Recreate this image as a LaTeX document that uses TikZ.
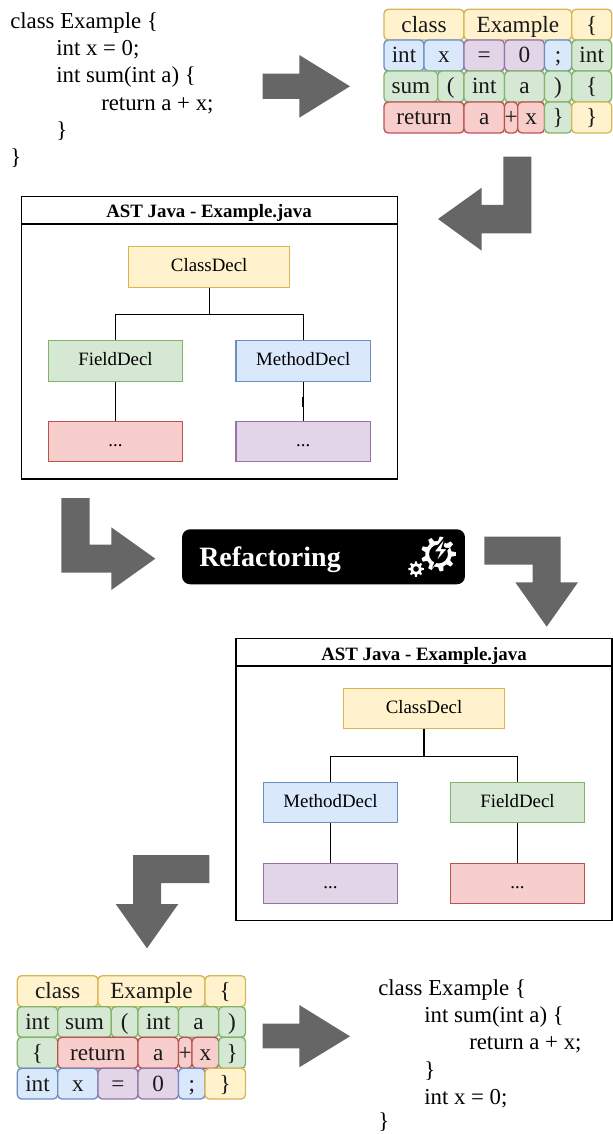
\documentclass[tikz,border=0pt]{standalone}
\usepackage{fontspec}
\setmainfont{Liberation Serif}
\usetikzlibrary{calc}
\definecolor{yf}{HTML}{FFF2CC}\definecolor{ys}{HTML}{D6B656}
\definecolor{bf}{HTML}{DAE8FC}\definecolor{bs}{HTML}{6C8EBF}
\definecolor{gf}{HTML}{D5E8D4}\definecolor{gs}{HTML}{82B366}
\definecolor{rf}{HTML}{F8CECC}\definecolor{rs}{HTML}{B85450}
\definecolor{pf}{HTML}{E1D5E7}\definecolor{ps}{HTML}{9673A6}
\definecolor{arrowgrey}{HTML}{666666}
\tikzset{
 yel/.style={fill=yf,draw=ys}, blu/.style={fill=bf,draw=bs}, grn/.style={fill=gf,draw=gs},
 red/.style={fill=rf,draw=rs}, pur/.style={fill=pf,draw=ps},
 tok/.style={rectangle,rounded corners=3.2pt,line width=1pt,inner sep=0pt,font=\fontsize{17.4pt}{19pt}\selectfont,text height=12.4pt,text depth=1.2pt,text=black!90},
 decl/.style={rectangle,line width=.8pt,inner sep=0pt,minimum width=101pt,minimum height=30.5pt,font=\fontsize{14.15pt}{16pt}\selectfont,text height=9.5pt,text depth=2.5pt},
 code/.style={anchor=base west,inner sep=0pt,font=\fontsize{17.1pt}{19pt}\selectfont},
 astbox/.style={rectangle,draw=black,line width=.85pt,inner sep=0pt},
 asttitle/.style={anchor=base,inner sep=0pt,font=\fontsize{14.15pt}{16pt}\selectfont\bfseries},
 link/.style={draw=black,line width=.8pt},
 bigarrow/.style={fill=arrowgrey},
}
\newcommand\tok[7]{%
 \pgfmathsetmacro\tokw{(#4-#3)*.75}\pgfmathsetmacro\tokh{(#6-#5)*.75}%
 \node[tok,#2,minimum width=\tokw pt,minimum height=\tokh pt] (#1) at ({(#3+#4)/2},{(#5+#6)/2}) {#7};}
\newcommand\gearshape[5]{% cx cy router rinner teeth
 \fill[white] \foreach \gi in {1,...,#5}{
   \ifnum\gi=1 ({#1+#4*cos(\gi*360/#5-90/#5*1.15)},{#2+#4*sin(\gi*360/#5-90/#5*1.15)})\else
   -- ({#1+#4*cos(\gi*360/#5-90/#5*1.15)},{#2+#4*sin(\gi*360/#5-90/#5*1.15)})\fi
   -- ({#1+#3*cos(\gi*360/#5-90/#5*.6)},{#2+#3*sin(\gi*360/#5-90/#5*.6)})
   -- ({#1+#3*cos(\gi*360/#5+90/#5*.6)},{#2+#3*sin(\gi*360/#5+90/#5*.6)})
   -- ({#1+#4*cos(\gi*360/#5+90/#5*1.15)},{#2+#4*sin(\gi*360/#5+90/#5*1.15)})
 } -- cycle;}
\begin{document}
\begin{tikzpicture}[x=.75pt,y=-.75pt]
\useasboundingbox (0,0) rectangle (613,1134);
% source code
\node[code] (c1) at (10,29) {class Example \{};
\node[code] (c2) at (56,56) {int x = 0;};
\node[code] (c3) at (56,83) {int sum(int a) \{};
\node[code] (c4) at (101,111) {return a + x;};
\node[code] (c5) at (56,138) {\}};
\node[code] (c6) at (10,165) {\}};
% arrows
\fill[bigarrow] (262.7,73.7) -- (299.3,73.7) -- (299.3,55) -- (350,86.3) -- (299.3,117.7) -- (299.3,99) -- (262.7,99) -- cycle;
\fill[bigarrow] (503.3,156.7) -- (531.3,156.7) -- (531.3,233.3) -- (481.7,233.3) -- (481.7,250.7) -- (438,219) -- (481.7,187.7) -- (481.7,205) -- (503.3,205) -- cycle;
\fill[bigarrow] (61.3,498) -- (89.7,498) -- (89.7,544.7) -- (111.3,544.7) -- (111.3,527.3) -- (155.3,558.7) -- (111.3,590) -- (111.3,572.7) -- (61.3,572.7) -- cycle;
\fill[bigarrow] (484.3,536.7) -- (560.7,536.7) -- (560.7,582.3) -- (578,582.3) -- (546.7,626.7) -- (515.3,582.3) -- (532.7,582.3) -- (532.7,564.7) -- (484.3,564.7) -- cycle;
\fill[bigarrow] (209.3,855) -- (133,855) -- (133,904) -- (115.7,904) -- (147,948.3) -- (178.3,904) -- (161,904) -- (161,883) -- (209.3,883) -- cycle;
\fill[bigarrow] (262.7,1023.7) -- (299.3,1023.7) -- (299.3,1005) -- (350,1036.3) -- (299.3,1067.3) -- (299.3,1048.3) -- (262.7,1048.3) -- cycle;
% tokens top
\tok{a1}{yel}{384}{464}{9.3}{40}{class}
\tok{a2}{yel}{464}{571.7}{9.3}{40}{Example}
\tok{a3}{yel}{571.7}{611.7}{9.3}{40}{\{}
\tok{b1}{blu}{384}{424}{40}{71}{int}
\tok{b2}{blu}{424}{464}{40}{71}{x}
\tok{b3}{pur}{464}{504.5}{40}{71}{=}
\tok{b4}{pur}{504.5}{544.5}{40}{71}{0}
\tok{b5}{blu}{544.5}{571.7}{40}{71}{;}
\tok{b6}{grn}{571.7}{611.7}{40}{71}{int}
\tok{d1}{grn}{384}{437.7}{71}{102}{sum}
\tok{d2}{grn}{437.7}{464}{71}{102}{(}
\tok{d3}{grn}{464}{504.5}{71}{102}{int}
\tok{d4}{grn}{504.5}{544.5}{71}{102}{a}
\tok{d5}{grn}{544.5}{571.7}{71}{102}{)}
\tok{d6}{grn}{571.7}{611.7}{71}{102}{\{}
\tok{e1}{red}{384}{464}{102}{133}{return}
\tok{e2}{red}{464}{504.5}{102}{133}{a}
\tok{e3}{red}{504.5}{517.7}{102}{133}{+}
\tok{e4}{red}{517.7}{544.5}{102}{133}{x}
\tok{e5}{grn}{544.5}{571.7}{102}{133}{\}}
\tok{e6}{yel}{571.7}{611.7}{102}{133}{\}}
% AST 1
\node[astbox,minimum width=282pt,minimum height=211.7pt] (ast1) at (209.2,337.9) {};
\draw[link] (ast1.west |- 0,224) coordinate (h1l) -- (ast1.east |- 0,224) coordinate (h1r);
\node[asttitle] (t1) at (209,218) {AST Java - Example.java};
\node[decl,yel,minimum width=121pt] (cd1) at (209.2,267) {ClassDecl};
\node[decl,grn] (fd1) at (115.5,361) {FieldDecl};
\node[decl,blu] (md1) at (303.3,361) {MethodDecl};
\node[decl,red] (l1) at (115.5,441.5) {...};
\node[decl,pur] (l2) at (303.3,441.5) {...};
\draw[link] (cd1.south) -- ++(0,27) coordinate (j1) -| (fd1.north);
\draw[link] (j1) -| (md1.north);
\draw[link] (fd1) -- (l1);
\draw[link] (md1) -- (l2);
\draw[line width=1.3pt] ($(fd1.south)!.4!(l1.north)$) -- ($(fd1.south)!.65!(l1.north)$);
\draw[line width=1.3pt] ($(md1.south)!.4!(l2.north)$) -- ($(md1.south)!.65!(l2.north)$);
% Refactoring
\node[rectangle,fill=black,rounded corners=6pt,minimum width=212.2pt,minimum height=41.2pt,inner sep=0pt] (rf) at (323.5,556.8) {};
\node[anchor=base west,inner sep=0pt,text=white,font=\fontsize{21pt}{24pt}\selectfont\bfseries] (rft) at (199,566) {Refactoring};
\gearshape{438.5}{554}{17.5}{13.2}{9}
\fill[black] (438.5,554) circle (10.2);
\fill[white,even odd rule] (438.5,554) circle (12) (438.5,554) circle (9.5);
\fill[white,draw=black,line width=1.1pt] (446,536) -- (433.5,552) -- (439.5,552) -- (434.5,564) -- (448,548.5) -- (442,548.5) -- cycle;
\gearshape{416}{569}{7.8}{5.6}{8}
\fill[black] (416,569) circle (2.8);
% AST 2
\node[astbox,minimum width=282pt,minimum height=211pt] (ast2) at (424,779.5) {};
\draw[link] (ast2.west |- 0,666) coordinate (h2l) -- (ast2.east |- 0,666) coordinate (h2r);
\node[asttitle] (t2) at (424,660) {AST Java - Example.java};
\node[decl,yel,minimum width=121pt] (cd2) at (424,708.5) {ClassDecl};
\node[decl,blu] (md2) at (330.5,802.5) {MethodDecl};
\node[decl,grn] (fd2) at (517.5,802.5) {FieldDecl};
\node[decl,pur] (l3) at (330.5,883.5) {...};
\node[decl,red] (l4) at (517.5,883.5) {...};
\draw[link] (cd2.south) -- ++(0,27) coordinate (j2) -| (md2.north);
\draw[link] (j2) -| (fd2.north);
\draw[link] (md2) -- (l3);
\draw[link] (fd2) -- (l4);
\draw[line width=1.3pt] ($(md2.south)!.4!(l3.north)$) -- ($(md2.south)!.65!(l3.north)$);
\draw[line width=1.3pt] ($(fd2.south)!.4!(l4.north)$) -- ($(fd2.south)!.65!(l4.north)$);
% tokens bottom
\tok{f1}{yel}{17.3}{98}{975.7}{1006.7}{class}
\tok{f2}{yel}{98}{205}{975.7}{1006.7}{Example}
\tok{f3}{yel}{205}{245.5}{975.7}{1006.7}{\{}
\tok{g1}{grn}{17.3}{57.7}{1006.7}{1037.3}{int}
\tok{g2}{grn}{57.7}{111.3}{1006.7}{1037.3}{sum}
\tok{g3}{grn}{111.3}{138}{1006.7}{1037.3}{(}
\tok{g4}{grn}{138}{178.5}{1006.7}{1037.3}{int}
\tok{g5}{grn}{178.5}{218.7}{1006.7}{1037.3}{a}
\tok{g6}{grn}{218.7}{245.5}{1006.7}{1037.3}{)}
\tok{h1}{grn}{17.3}{57.7}{1037.3}{1068.3}{\{}
\tok{h2}{red}{57.7}{138}{1037.3}{1068.3}{return}
\tok{h3}{red}{138}{178.5}{1037.3}{1068.3}{a}
\tok{h4}{red}{178.5}{192}{1037.3}{1068.3}{+}
\tok{h5}{red}{192}{218.7}{1037.3}{1068.3}{x}
\tok{h6}{grn}{218.7}{245.5}{1037.3}{1068.3}{\}}
\tok{i1}{blu}{17.3}{57.7}{1068.3}{1099}{int}
\tok{i2}{blu}{57.7}{98}{1068.3}{1099}{x}
\tok{i3}{pur}{98}{138}{1068.3}{1099}{=}
\tok{i4}{pur}{138}{178.5}{1068.3}{1099}{0}
\tok{i5}{blu}{178.5}{205}{1068.3}{1099}{;}
\tok{i6}{yel}{205}{245.5}{1068.3}{1099}{\}}
% refactored code
\node[code] (k1) at (378,995) {class Example \{};
\node[code] (k2) at (424,1022) {int sum(int a) \{};
\node[code] (k3) at (469,1049) {return a + x;};
\node[code] (k4) at (424,1077) {\}};
\node[code] (k5) at (424,1104) {int x = 0;};
\node[code] (k6) at (378,1128) {\}};
\end{tikzpicture}
\end{document}
